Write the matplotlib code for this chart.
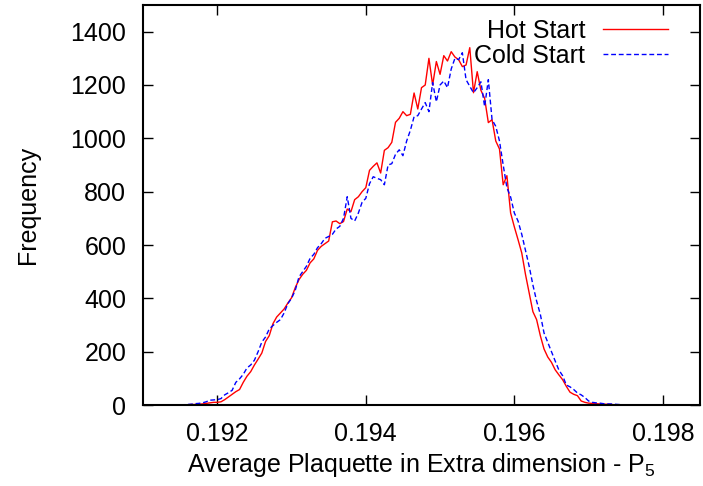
import numpy as np
import matplotlib.pyplot as plt

plt.rcParams['font.family'] = ['Liberation Sans', 'DejaVu Sans']
plt.rcParams['mathtext.fontset'] = 'custom'
plt.rcParams['mathtext.rm'] = 'Liberation Sans'

# histogram bins (centres), step 0.00005
x_start = 0.1914
x_step = 0.00005

hot_start = [0, 0, 0, 1, 1, 2, 2, 3, 4, 6,
             8, 10, 10, 12, 20, 30, 40, 50, 58, 85,
             108, 125, 150, 172, 195, 238, 260, 305, 330, 345,
             360, 382, 402, 440, 470, 490, 505, 533, 548, 580,
             595, 605, 615, 687, 690, 680, 688, 735, 725, 770,
             781, 800, 815, 880, 895, 908, 870, 955, 965, 985,
             1060, 1075, 1100, 1085, 1090, 1170, 1110, 1190, 1200, 1300,
             1200, 1288, 1240, 1310, 1290, 1325, 1305, 1295, 1269, 1275,
             1340, 1171, 1250, 1180, 1150, 1059, 1070, 990, 960, 826,
             860, 720, 668, 620, 570, 490, 420, 350, 320, 260,
             210, 180, 160, 132, 113, 95, 70, 48, 40, 35,
             15, 10, 7, 6, 5, 4, 3, 3, 2, 1,
             1, 1, 0, 0, 0]

cold_start = [0, 0, 1, 1, 2, 3, 5, 6, 8, 12,
              18, 19, 20, 24, 38, 46, 55, 85, 98, 115,
              139, 150, 168, 200, 236, 255, 285, 298, 310, 320,
              345, 380, 400, 430, 480, 500, 520, 550, 565, 590,
              605, 625, 632, 640, 660, 670, 700, 781, 700, 690,
              720, 760, 775, 830, 856, 850, 845, 826, 900, 905,
              940, 957, 935, 990, 1030, 1081, 1085, 1110, 1134, 1100,
              1209, 1137, 1200, 1215, 1190, 1260, 1300, 1295, 1321, 1220,
              1195, 1171, 1190, 1212, 1119, 1220, 1070, 1045, 990, 900,
              815, 780, 720, 690, 640, 580, 520, 450, 390, 340,
              270, 235, 200, 165, 131, 110, 75, 68, 58, 45,
              38, 28, 15, 10, 8, 7, 5, 4, 4, 3,
              2, 1, 1, 0, 0, 0]

x_hot = x_start + x_step * np.arange(len(hot_start))
x_cold = x_start + x_step * np.arange(len(cold_start))

fig = plt.figure(figsize=(7.03, 4.86), dpi=100)
ax = fig.add_axes([143 / 703, 81 / 486, 557 / 703, 400 / 486])

ax.plot(x_hot, hot_start, color='red', lw=1.0, label='Hot Start')
ax.plot(x_cold, cold_start, color='blue', lw=1.0, dashes=(3.5, 2), label='Cold Start')

ax.set_xlim(0.191, 0.1985)
ax.set_ylim(0, 1500)
ax.set_xticks([0.192, 0.194, 0.196, 0.198])
ax.set_xticklabels(['0.192', '0.194', '0.196', '0.198'])
ax.set_yticks(range(0, 1401, 200))

ax.tick_params(direction='in', top=True, right=True, length=7, width=1,
               labelsize=18, colors='black')
ax.tick_params(axis='x', pad=12)
ax.tick_params(axis='y', pad=12)
for s in ax.spines.values():
    s.set_linewidth(1.5)

ax.set_xlabel('Average Plaquette in Extra dimension - P$_5$', fontsize=18, labelpad=4)
ax.set_ylabel('Frequency', fontsize=18, labelpad=22)

ax.legend(loc='upper right', frameon=False, fontsize=18, markerfirst=False,
          handlelength=2.6, handletextpad=0.7, borderaxespad=0.0,
          labelspacing=0.05, bbox_to_anchor=(0.96, 0.99))

fig.savefig('out.png', dpi=100)
